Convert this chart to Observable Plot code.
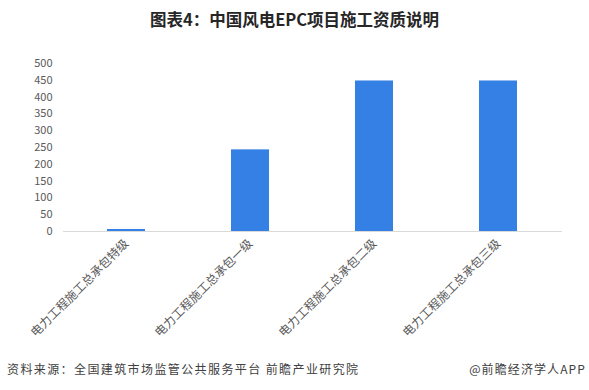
<!DOCTYPE html>
<html>
<head>
<meta charset="utf-8">
<script src="https://cdn.jsdelivr.net/npm/d3@7"></script>
<script src="https://cdn.jsdelivr.net/npm/@observablehq/plot@0.6"></script>
<style>
  body { margin: 0; background: #fff; font-family: "Noto Sans CJK SC", "Noto Sans", sans-serif; }
  #wrap { width: 589px; height: 390px; position: relative; overflow: hidden; }
  #title { height: 40px; line-height: 38px; text-align: center; font-size: 16.5px; font-weight: bold; color: #262626; }
  #foot { position: absolute; left: 0; top: 350px; width: 589px; height: 40px; font-size: 12px; color: #404040; }
  #foot .l { position: absolute; left: 7px; top: 10px; letter-spacing: 1.4px; }
  #foot .r { position: absolute; right: 3px; top: 10px; letter-spacing: 1.1px; }
</style>
</head>
<body>
<div id="wrap">
  <div id="title">图表4：中国风电EPC项目施工资质说明</div>
  <div id="chart"></div>
  <div id="foot"><span class="l">资料来源：全国建筑市场监管公共服务平台 前瞻产业研究院</span><span class="r">@前瞻经济学人APP</span></div>
</div>
<script>
// Qualification levels and number of enterprises
const categories = [
  "电力工程施工总承包特级",
  "电力工程施工总承包一级",
  "电力工程施工总承包二级",
  "电力工程施工总承包三级"
];
const values = [6, 243, 448, 448];
const yTicks = [0, 50, 100, 150, 200, 250, 300, 350, 400, 450, 500];

const data = categories.map((c, i) => ({category: c, value: values[i]}));

const chart = Plot.plot({
  width: 589,
  height: 310,
  marginTop: 23,
  marginBottom: 119,
  marginLeft: 63,
  marginRight: 27,
  style: {fontFamily: "'Noto Sans CJK SC', sans-serif", background: "#fff"},
  x: {domain: categories, paddingInner: 0.69, paddingOuter: 0.345, label: null},
  y: {domain: [0, 500], label: null},
  marks: [
    Plot.axisY({ticks: yTicks, tickSize: 0, tickPadding: 11, fontSize: 11, color: "#595959", label: null}),
    Plot.axisX({tickSize: 0, tickRotate: -45, tickPadding: 10, fontSize: 12, color: "#595959", label: null}),
    Plot.barY(data, {x: "category", y: "value", fill: "#3580E5"}),
    Plot.ruleY([0], {stroke: "#d9d9d9", strokeWidth: 1})
  ]
});
document.getElementById("chart").appendChild(chart);
</script>
</body>
</html>
